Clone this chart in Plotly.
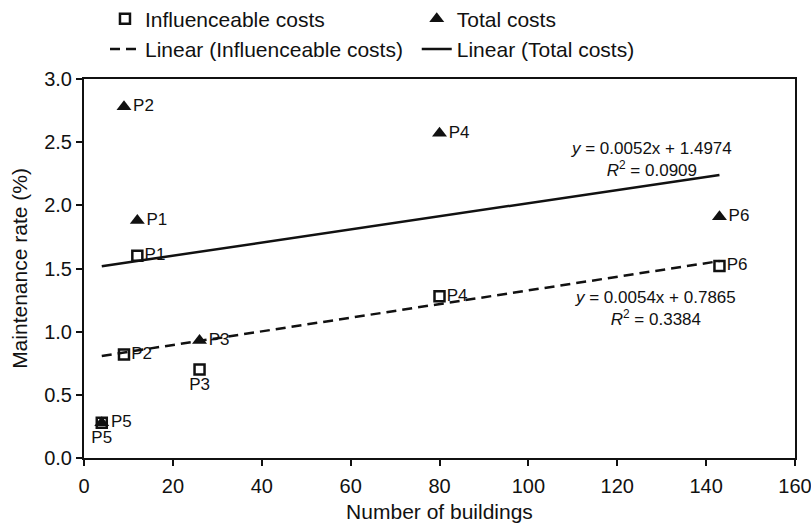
import plotly.graph_objects as go

# ---- data ----
projects = ["P1", "P2", "P3", "P4", "P5", "P6"]
n_buildings = [12, 9, 26, 80, 4, 143]
influenceable = [1.60, 0.82, 0.70, 1.28, 0.28, 1.52]
total = [1.88, 2.78, 0.93, 2.57, 0.28, 1.91]

# trendline coefficients as printed on the chart
infl_fit = {"slope": 0.0054, "intercept": 0.7865, "r2": 0.3384}
total_fit = {"slope": 0.0052, "intercept": 1.4974, "r2": 0.0909}

x_ticks = [0, 20, 40, 60, 80, 100, 120, 140, 160]
y_ticks = [0.0, 0.5, 1.0, 1.5, 2.0, 2.5, 3.0]

FONT = "Liberation Sans, Arial, sans-serif"

infl_textpos = ["middle right", "middle right", "bottom center",
                "middle right", "bottom center", "middle right"]
total_textpos = ["middle right"] * 6

x_rng = [min(n_buildings), max(n_buildings)]


def line_y(fit):
    return [fit["slope"] * v + fit["intercept"] for v in x_rng]


fig = go.Figure()

fig.add_trace(go.Scatter(
    x=n_buildings, y=influenceable, mode="markers+text",
    text=projects, textposition=infl_textpos,
    textfont=dict(size=17, color="#111", family=FONT),
    marker=dict(symbol="square", size=10, color="white",
                line=dict(color="#111", width=2.5)),
    name="Influenceable costs", legend="legend", cliponaxis=False,
))
fig.add_trace(go.Scatter(
    x=n_buildings, y=total, mode="markers+text",
    text=projects, textposition=total_textpos,
    textfont=dict(size=17, color="#111", family=FONT),
    marker=dict(symbol="triangle-up", size=13, color="#111",
                line=dict(width=0)),
    name="Total costs", legend="legend2", cliponaxis=False,
))
fig.add_trace(go.Scatter(
    x=x_rng, y=line_y(infl_fit), mode="lines",
    line=dict(color="#111", width=2.5, dash="10px,6px"),
    name="Linear (Influenceable costs)", legend="legend",
))
fig.add_trace(go.Scatter(
    x=x_rng, y=line_y(total_fit), mode="lines",
    line=dict(color="#111", width=2.5),
    name="Linear (Total costs)", legend="legend2",
))


def eq_text(fit):
    return (f"<i>y</i> = {fit['slope']:.4f}x + {fit['intercept']:.4f}<br>"
            f"<i>R</i><sup>2</sup> = {fit['r2']:.4f}")


fig.add_annotation(x=127.8, y=2.36, text=eq_text(total_fit), showarrow=False,
                   font=dict(size=17, color="#111", family=FONT), align="center")
fig.add_annotation(x=128.7, y=1.18, text=eq_text(infl_fit), showarrow=False,
                   font=dict(size=17, color="#111", family=FONT), align="center")

axis_common = dict(
    showgrid=False, zeroline=False, showline=True, linecolor="#111",
    linewidth=2, mirror=True, ticks="outside", ticklen=6, tickwidth=2,
    tickcolor="#111", tickfont=dict(size=20, color="#111", family=FONT),
    automargin=False, ticklabeloverflow="allow",
)

fig.update_xaxes(range=[0, 160], tickvals=x_ticks,
                 ticktext=[str(v) for v in x_ticks],
                 ticklabelstandoff=3,
                 title=dict(text="Number of buildings", standoff=8,
                            font=dict(size=21, color="#111", family=FONT)),
                 **axis_common)
fig.update_yaxes(range=[0, 3.0], tickvals=y_ticks,
                 ticktext=[f"{v:.1f}" for v in y_ticks],
                 title=dict(text="Maintenance rate (%)", standoff=11,
                            font=dict(size=21, color="#111", family=FONT)),
                 **axis_common)

legend_common = dict(orientation="v", yanchor="top", xanchor="left",
                     bgcolor="rgba(0,0,0,0)",
                     font=dict(size=21, color="#111", family=FONT),
                     tracegroupgap=0, itemwidth=30)

fig.update_layout(
    width=811, height=524,
    margin=dict(l=84, r=16, t=79, b=66, autoexpand=False),
    paper_bgcolor="white", plot_bgcolor="white",
    font=dict(family=FONT, color="#111"),
    showlegend=True,
    legend=dict(x=0.0295, y=1.212, **legend_common),
    legend2=dict(x=0.468, y=1.212, **legend_common),
)

# remove the browser's default 8px body margin so the figure fills the window
fig.write_html("out.html",
               config={"displayModeBar": False},
               post_script="document.body.style.margin='0';"
                           "document.body.style.overflow='hidden';")
